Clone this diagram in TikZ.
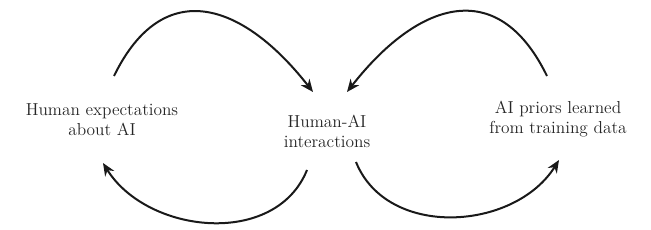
\documentclass[tikz,border=0pt]{standalone}
\usepackage{tikz}
\usetikzlibrary{arrows.meta}

\begin{document}
\begin{tikzpicture}[x=0.75pt,y=0.75pt,
  lbl/.style={align=center,inner sep=0pt,font=\fontsize{13}{15}\selectfont,text=black!85},
  fb/.style={-{Stealth[length=9.5pt,width=8pt]},line width=1.5pt,black!90}]
\useasboundingbox (0,0) rectangle (651,229);
 \node[lbl] (hum) at (102,109) {Human expectations\\about AI};
 \node[lbl] (hai) at (327,98) {Human-AI\\interactions};
 \node[lbl] (pri) at (558,110) {AI priors learned\\from training data};
 \coordinate (hTop) at (114,153); \coordinate (hBot) at (103,66);
 \coordinate (iTopL) at (313,137); \coordinate (iBotL) at (307,59);
 \coordinate (iTopR) at (347,137); \coordinate (iBotR) at (356,67);
 \coordinate (pTop) at (547,153); \coordinate (pBot) at (559,69);
 \draw[fb] (hTop) to[out=64,in=128,looseness=1.45] (iTopL);
 \draw[fb] (iBotL) to[out=-112,in=-58,looseness=1.05] (hBot);
 \draw[fb] (pTop) to[out=116,in=52,looseness=1.45] (iTopR);
 \draw[fb] (iBotR) to[out=-68,in=-122,looseness=1.05] (pBot);
\end{tikzpicture}
\end{document}
